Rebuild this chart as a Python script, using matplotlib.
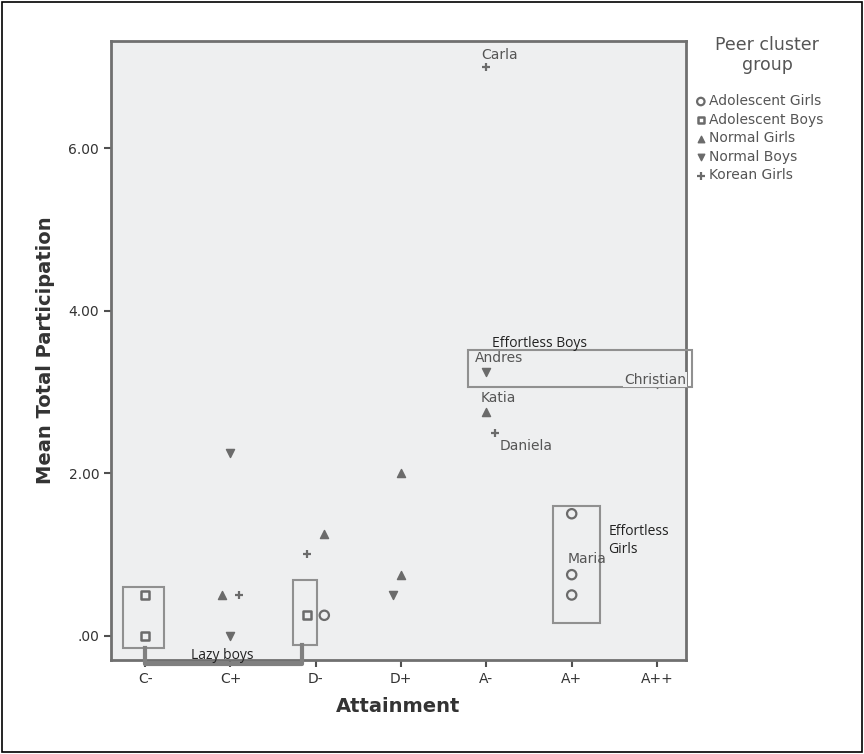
import matplotlib
matplotlib.use("Agg")
import matplotlib.pyplot as plt
from matplotlib.patches import Rectangle

grades = ["C-", "C+", "D-", "D+", "A-", "A+", "A++"]

# x position (grade index, with small offsets as drawn) and mean participation
adol_girls_x = [2.1, 5.0, 5.0, 5.0]
adol_girls_y = [0.25, 1.5, 0.75, 0.5]
adol_boys_x = [0.0, 0.0, 1.9]
adol_boys_y = [0.5, 0.0, 0.25]
normal_girls_x = [0.9, 2.1, 3.0, 3.0, 4.0]
normal_girls_y = [0.5, 1.25, 2.0, 0.75, 2.75]
normal_boys_x = [1.0, 1.0, 2.9, 4.0, 6.0]
normal_boys_y = [2.25, 0.0, 0.5, 3.25, 3.1]
korean_girls_x = [1.1, 1.9, 4.0, 4.1]
korean_girls_y = [0.5, 1.0, 7.0, 2.5]

gray = "#6b6b6b"
fig = plt.figure(figsize=(8.64, 7.54), dpi=100)
ax = fig.add_axes([0.1285, 0.1247, 0.6655, 0.821])
ax.set_facecolor("#eeeff0")

ax.scatter(adol_girls_x, adol_girls_y, marker="o", s=45, facecolors="none",
           edgecolors=gray, linewidths=1.6, label="Adolescent Girls", zorder=3)
ax.scatter(adol_boys_x, adol_boys_y, marker="s", s=32, facecolors="none",
           edgecolors=gray, linewidths=1.8, label="Adolescent Boys", zorder=3)
ax.scatter(normal_girls_x, normal_girls_y, marker="^", s=34, color=gray,
           label="Normal Girls", zorder=3)
ax.scatter(normal_boys_x, normal_boys_y, marker="v", s=34, color=gray,
           label="Normal Boys", zorder=2)
ax.scatter(korean_girls_x, korean_girls_y, marker="+", s=40, color=gray,
           linewidths=1.6, label="Korean Girls", zorder=3)

ax.set_xlim(-0.4, 6.34)
ax.set_ylim(-0.30, 7.32)
ax.set_xticks(range(len(grades)))
ax.set_xticklabels(grades)
ax.set_yticks([0, 2, 4, 6])
ax.set_yticklabels([".00", "2.00", "4.00", "6.00"])
ax.tick_params(colors="#505050", labelsize=10, width=1.5, length=5)
for lab in ax.get_xticklabels() + ax.get_yticklabels():
    lab.set_color("#333333")
for sp in ax.spines.values():
    sp.set_color("#707070")
    sp.set_linewidth(2)

ax.set_xlabel("Attainment", fontsize=14, fontweight="bold", color="#333333", labelpad=8)
ax.set_ylabel("Mean Total Participation", fontsize=14, fontweight="bold",
              color="#333333", labelpad=10)

# name labels
name_kw = dict(fontsize=10, color="#555555", zorder=5)
ax.text(3.94, 7.15, "Carla", ha="left", va="center", **name_kw)
ax.text(3.86, 3.42, "Andres", ha="left", va="center", **name_kw)
ax.text(3.93, 2.93, "Katia", ha="left", va="center", **name_kw)
ax.text(4.15, 2.33, "Daniela", ha="left", va="center", **name_kw)
ax.text(6.34, 3.15, "Christian", ha="right", va="center",
        bbox=dict(facecolor="#eeeff0", edgecolor="none", pad=0.5), **name_kw)
ax.text(4.95, 0.94, "Maria", ha="left", va="center", **name_kw)

# group annotations
note_kw = dict(fontsize=10, color="#222222", family="Open Sans", zorder=5)
ax.text(4.06, 3.6, "Effortless Boys", ha="left", va="center", **note_kw)
ax.text(5.43, 1.17, "Effortless\nGirls", ha="left", va="center", linespacing=1.3, **note_kw)
ax.text(0.9, -0.24, "Lazy boys", ha="center", va="center", **note_kw)

box_kw = dict(fill=False, edgecolor="#909090", linewidth=1.5, zorder=4, clip_on=False)
ax.add_patch(Rectangle((-0.26, -0.15), 0.48, 0.75, **box_kw))
ax.add_patch(Rectangle((1.73, -0.12), 0.28, 0.81, **box_kw))
ax.add_patch(Rectangle((4.78, 0.16), 0.55, 1.44, **box_kw))
ax.add_patch(Rectangle((3.785, 3.06), 2.625, 0.46, **box_kw))

# lazy boys bracket
ax.plot([0.0, 0.0, 1.84, 1.84], [-0.15, -0.35, -0.35, -0.12], color="#808080",
        linewidth=3, zorder=4, clip_on=False)

# legend
fig.text(767 / 864, 1 - 55 / 754, "Peer cluster\ngroup", ha="center", va="center",
         fontsize=12.5, color="#555555", linespacing=1.1)
leg = ax.legend(loc="upper left", bbox_to_anchor=(1.004, 0.923), frameon=False,
                fontsize=10, handletextpad=0.1, handlelength=1.0, labelspacing=0.33,
                borderaxespad=0.0, scatterpoints=1, markerscale=0.8)
for t in leg.get_texts():
    t.set_color("#555555")

fig.patches.append(Rectangle((0.002, 0.002), 0.996, 0.996, transform=fig.transFigure,
                             fill=False, edgecolor="black", linewidth=1.2))

fig.savefig("out.png", dpi=100)
